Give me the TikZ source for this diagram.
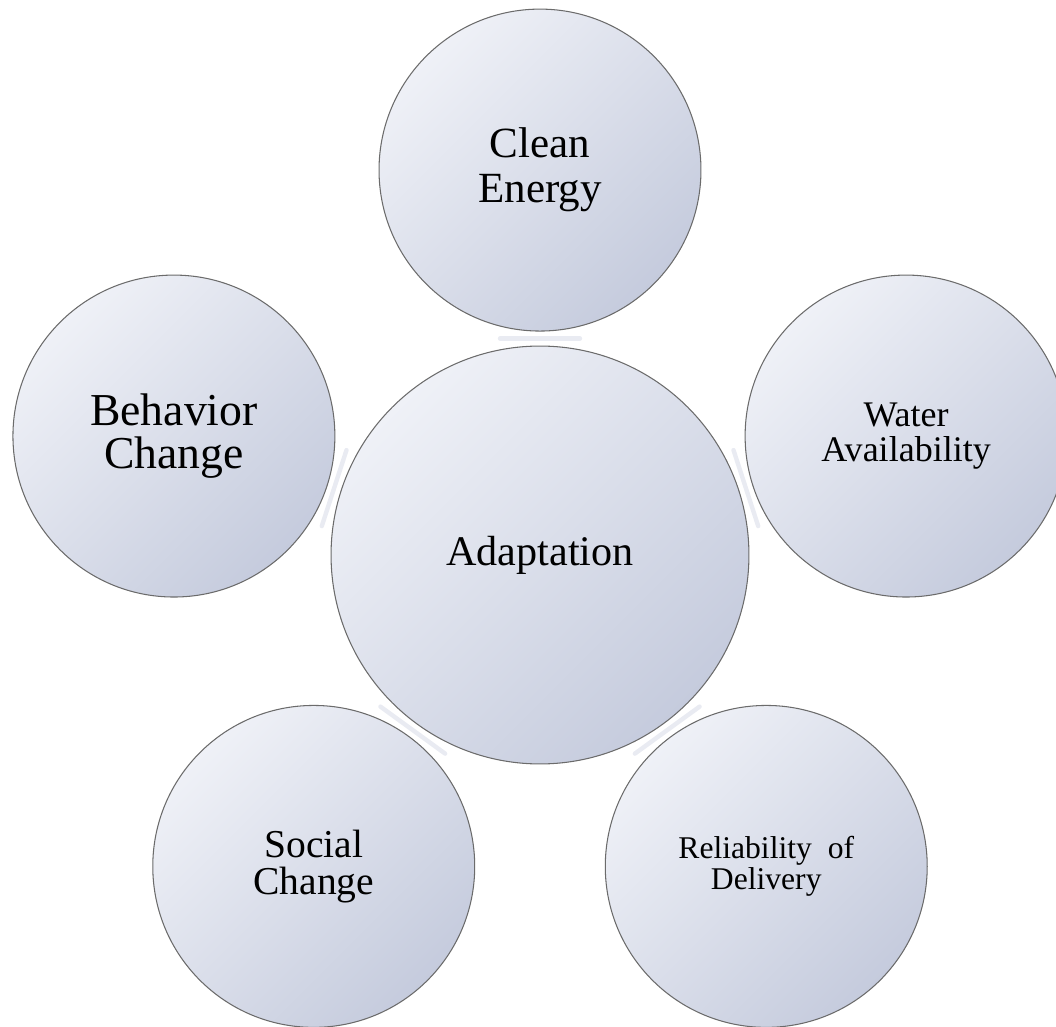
\documentclass[tikz,border=0pt]{standalone}
\usepackage{fontspec}
\setmainfont{Liberation Serif}
\usetikzlibrary{calc}

\begin{document}
\begin{tikzpicture}[x=0.02cm, y=-0.02cm]
    % Define sizes
    \def\hubSize{8.36cm}
    \def\satSize{6.44cm}
    \def\spokeLength{7.7cm}
    \def\gapMid{4.33cm}

    \definecolor{borderColour}{HTML}{6B6B6B}
    \definecolor{lightColour}{HTML}{EFF1F7}
    \definecolor{darkColour}{HTML}{C5CBDD}
    \definecolor{gapColour}{HTML}{E9EBF2}

    \tikzset{
        bubble/.style={circle, draw=borderColour, line width=0.6pt, inner sep=0pt,
            top color=lightColour, bottom color=darkColour, shading angle=45, align=center},
        gapMark/.style={draw=gapColour, line width=2.5pt, line cap=round}
    }

    % Fix the page size
    \useasboundingbox (0,0) rectangle (1056,1027);

    % Define the centre of the diagram
    \coordinate (hubCentre) at (540,555);

    % Draw the central circle
    \node[bubble, minimum size=\hubSize, font=\fontsize{24}{26}\selectfont] (hub) at (hubCentre) {Adaptation};

    % Draw the outer circles around the centre
    \foreach \ang/\name/\size/\lead/\txt in {90/clean/24.5/25.5/{Clean\\Energy},
            162/behav/26/24.5/{Behavior\\Change},
            18/water/20.5/20/{Water\\Availability},
            234/social/22.5/21/{Social\\Change},
            306/relia/18/16/{Reliability\ \ of\\Delivery}}
        \node[bubble, minimum size=\satSize, font=\fontsize{\size}{\lead}\selectfont] (\name) at ($(hubCentre)+(\ang:\spokeLength)$) {\txt};

    % Draw the faint marks in the gaps
    \foreach \name in {clean, behav, water, social, relia} {
        \coordinate (mid\name) at ($(hubCentre)!\gapMid!(\name)$);
        \draw[gapMark] ($(mid\name)!0.8cm!90:(\name)$) -- ($(mid\name)!0.8cm!-90:(\name)$);
    }

\end{tikzpicture}
\end{document}
